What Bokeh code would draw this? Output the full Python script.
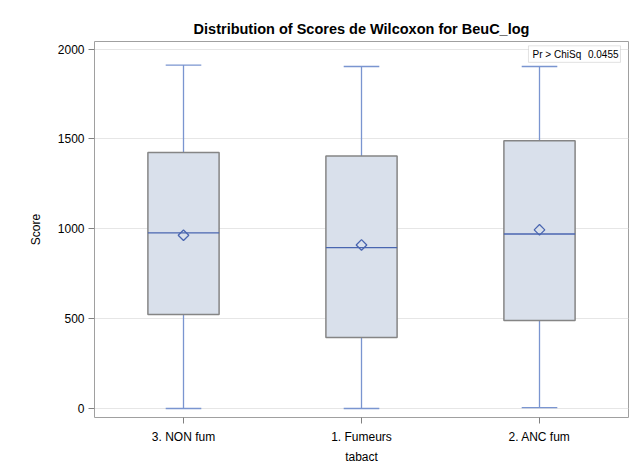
import math
from bokeh.plotting import figure
from bokeh.models import ColumnDataSource, Label, BoxAnnotation, FixedTicker
from bokeh.transform import dodge
from bokeh.embed import file_html
from bokeh.resources import INLINE

# Data
categories = ["3. NON fum", "1. Fumeurs", "2. ANC fum"]
q1_vals = [523, 395, 489]
median_vals = [977, 895, 971]
q3_vals = [1425, 1405, 1490]
mean_vals = [964, 910, 994]
lower_vals = [0, 0, 5]
upper_vals = [1911, 1903, 1903]
y_ticks = [0, 500, 1000, 1500, 2000]
title_text = "Distribution of Scores de Wilcoxon for BeuC_log"
stat_label = "Pr > ChiSq"
stat_value = "0.0455"

FONT = "Liberation Sans"
WHISKER = "#7A95D0"
MEDIAN = "#4A66B0"
BOX_FILL = "#D9E0EB"
BOX_LINE = "#858585"

src = ColumnDataSource(dict(cat=categories, q1=q1_vals, med=median_vals, q3=q3_vals,
                            mean=mean_vals, lo=lower_vals, hi=upper_vals))

p = figure(x_range=categories, y_range=(-50, 2042), width=637, height=471,
           output_backend="svg", toolbar_location=None,
           min_border_left=94, min_border_right=9, min_border_top=41, min_border_bottom=54)

p.title.text = title_text
p.title.align = "center"
p.title.text_font = FONT
p.title.text_font_size = "14.5px"
p.title.text_font_style = "bold"
p.title.text_color = "#000000"
p.title.standoff = 10

p.outline_line_color = "#A0A0A0"
p.outline_line_width = 1
p.xgrid.grid_line_color = None
p.ygrid.grid_line_color = "#E6E6E6"
p.yaxis.ticker = FixedTicker(ticks=y_ticks)

for ax in (p.xaxis, p.yaxis):
    ax.axis_line_color = None
    ax.major_tick_line_color = "#808080"
    ax.major_tick_out = 6
    ax.major_tick_in = 0
    ax.minor_tick_line_color = None
    ax.major_label_text_font = FONT
    ax.major_label_text_font_size = "12px"
    ax.major_label_text_color = "#000000"
    ax.axis_label_text_font = FONT
    ax.axis_label_text_font_size = "12px"
    ax.axis_label_text_font_style = "normal"
    ax.axis_label_text_color = "#000000"
p.yaxis.axis_label = "Score"
p.xaxis.axis_label = "tabact"
p.yaxis.major_label_standoff = 4
p.xaxis.major_label_standoff = 6
p.yaxis.axis_label_standoff = 12
p.xaxis.axis_label_standoff = 3

# whiskers
p.segment(x0="cat", y0="q3", x1="cat", y1="hi", source=src, line_color=WHISKER, line_width=1.3)
p.segment(x0="cat", y0="q1", x1="cat", y1="lo", source=src, line_color=WHISKER, line_width=1.3)
p.segment(x0=dodge("cat", -0.1, range=p.x_range), y0="hi", x1=dodge("cat", 0.1, range=p.x_range), y1="hi",
          source=src, line_color=WHISKER, line_width=1.3)
p.segment(x0=dodge("cat", -0.1, range=p.x_range), y0="lo", x1=dodge("cat", 0.1, range=p.x_range), y1="lo",
          source=src, line_color=WHISKER, line_width=1.3)

# boxes
p.vbar(x="cat", width=0.4, bottom="q1", top="q3", source=src,
       fill_color=BOX_FILL, line_color=BOX_LINE, line_width=1.5)
# median
p.segment(x0=dodge("cat", -0.2, range=p.x_range), y0="med", x1=dodge("cat", 0.2, range=p.x_range), y1="med",
          source=src, line_color=MEDIAN, line_width=1.3)
# mean (diamond)
p.scatter(x="cat", y="mean", source=src, marker="square", size=7.5, angle=math.pi / 4,
          fill_color=BOX_FILL, fill_alpha=0, line_color=MEDIAN, line_width=1.3)

# inset statistic box
p.add_layout(BoxAnnotation(left=2.438, right=2.955, bottom=1926, top=2018,
                           fill_color="white", fill_alpha=1, line_color="#A0A0A0", line_width=1))
p.add_layout(Label(x=2.461, y=1971, text=stat_label, text_font=FONT, text_font_size="10px",
                   text_baseline="middle", text_align="left", text_color="#000000"))
p.add_layout(Label(x=2.944, y=1971, text=stat_value, text_font=FONT, text_font_size="10px",
                   text_baseline="middle", text_align="right", text_color="#000000"))

open("out.html", "w").write(file_html(p, INLINE))
